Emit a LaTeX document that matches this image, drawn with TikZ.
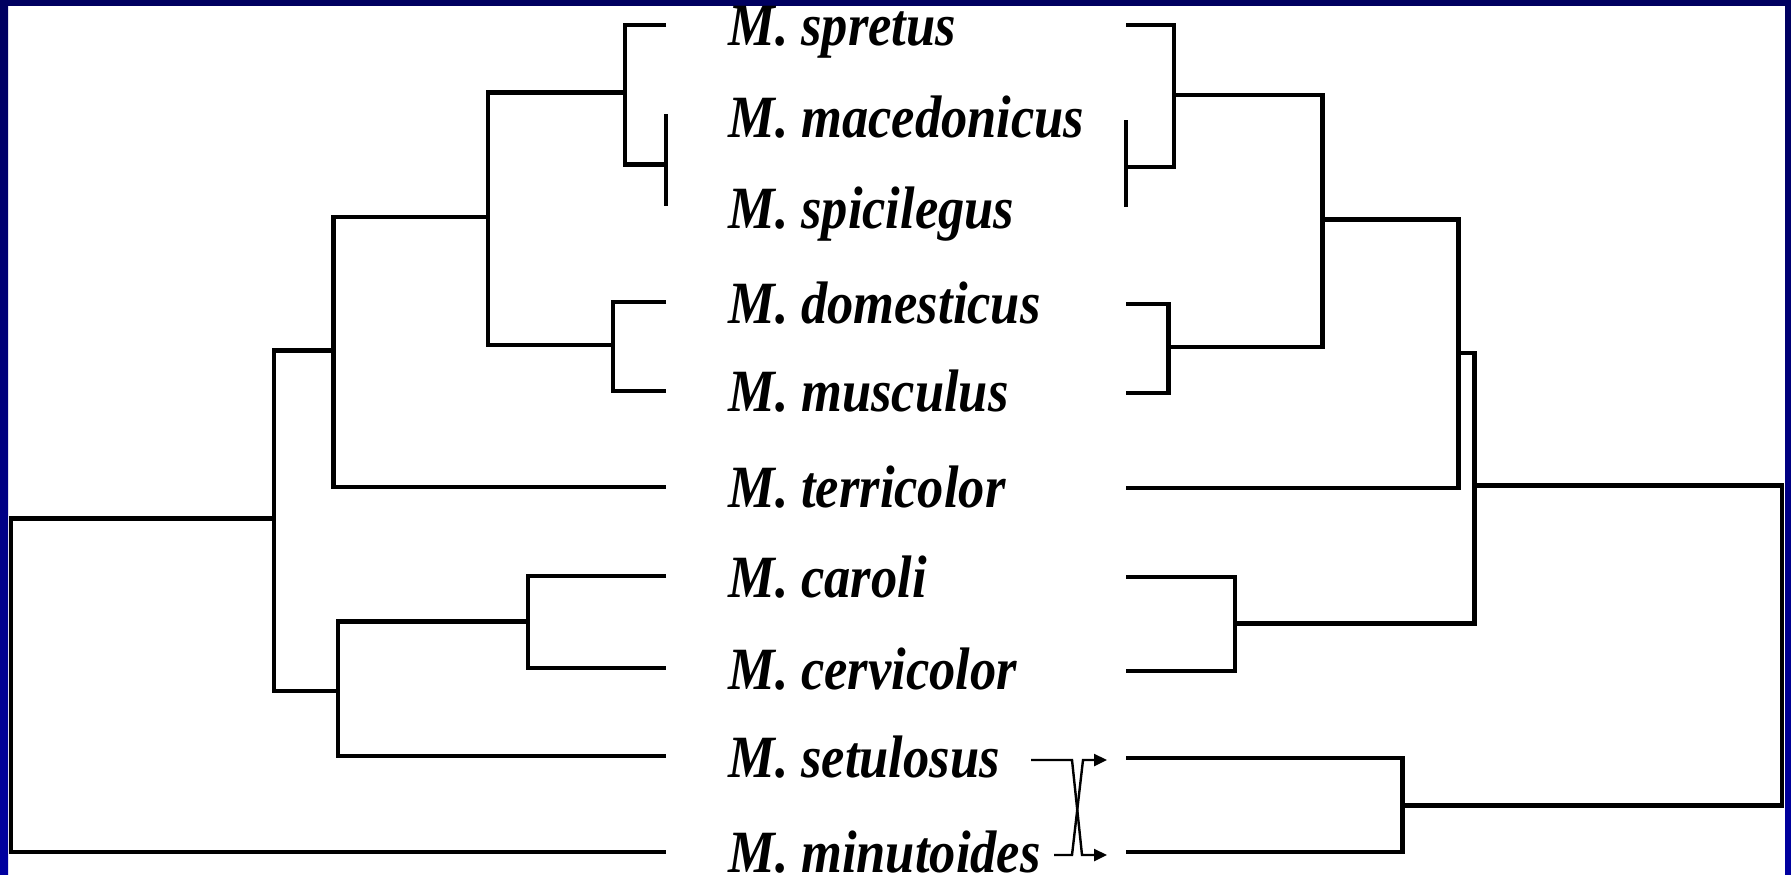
\documentclass[tikz,border=0pt]{standalone}
\usepackage{fontspec}
\newfontfamily\taxfont{Liberation Serif}[FakeStretch=0.875]
\usetikzlibrary{arrows.meta}
\definecolor{frametop}{HTML}{000060}
\definecolor{framebot}{HTML}{0000A0}

\begin{document}
\begin{tikzpicture}[
  x=0.5pt,y=-0.5pt,
  taxon/.style={anchor=base west,inner sep=0pt,font=\taxfont\bfseries\itshape\fontsize{30}{30}\selectfont},
  branch/.style={line width=2.25pt,line join=miter},
  swaparrow/.style={line width=1.2pt,line join=miter,-{Triangle[length=6.5pt,width=6pt]}},
]
\useasboundingbox (0,0) rectangle (1791,874);
\fill[white] (0,0) rectangle (1791,874);

% ============ frame ============
\shade[top color=frametop,bottom color=framebot] (0,0) rectangle (8,874);
\shade[top color=frametop,bottom color=framebot] (1785,0) rectangle (1791,874);
\fill[frametop] (0,0) rectangle (1791,6);

% ============ species names ============
\node[taxon] (spretus)     at (728,45)  {M. spretus};
\node[taxon] (macedonicus) at (728,137) {M. macedonicus};
\node[taxon] (spicilegus)  at (728,228) {M. spicilegus};
\node[taxon] (domesticus)  at (728,323) {M. domesticus};
\node[taxon] (musculus)    at (728,411) {M. musculus};
\node[taxon] (terricolor)  at (728,507) {M. terricolor};
\node[taxon] (caroli)      at (728,597) {M. caroli};
\node[taxon] (cervicolor)  at (728,689) {M. cervicolor};
\node[taxon] (setulosus)   at (728,777) {M. setulosus};
\node[taxon] (minutoides)  at (728,872) {M. minutoides};

% ============ left tree ============
\coordinate (Lspr) at (666,25);
\coordinate (Lmac) at (666,114);
\coordinate (Lspi) at (666,206);
\coordinate (Ldom) at (666,302);
\coordinate (Lmus) at (666,391);
\coordinate (Lter) at (666,487);
\coordinate (Lcar) at (666,576);
\coordinate (Lcer) at (666,668);
\coordinate (Lset) at (666,756);
\coordinate (Lmin) at (666,852);
\coordinate (Lms)   at (666,164.5);
\coordinate (Lsms)  at (625,92.5);
\coordinate (Ldm)   at (613,345);
\coordinate (Lpal)  at (488,217);
\coordinate (Lpt)   at (333.5,350.7);
\coordinate (Lcc)   at (528,621.4);
\coordinate (Lccs)  at (338,691);
\coordinate (Lin)   at (274,518.6);
\coordinate (Lroot) at (11,685);

\draw[branch] (Lmac) -- (Lspi);
\draw[branch] (Lspr) -| (Lsms) |- (Lms);
\draw[branch] (Ldom) -| (Ldm) |- (Lmus);
\draw[branch] (Lsms) -| (Lpal) |- (Ldm);
\draw[branch] (Lpal) -| (Lpt) |- (Lter);
\draw[branch] (Lcar) -| (Lcc) |- (Lcer);
\draw[branch] (Lcc) -| (Lccs) |- (Lset);
\draw[branch] (Lpt) -| (Lin) |- (Lccs);
\draw[branch] (Lin) -| (Lroot) |- (Lmin);

% ============ right tree ============
\coordinate (Rspr) at (1126,25);
\coordinate (Rmac) at (1126,120);
\coordinate (Rspi) at (1126,207);
\coordinate (Rdom) at (1126,304);
\coordinate (Rmus) at (1126,393);
\coordinate (Rter) at (1126,488);
\coordinate (Rcar) at (1126,577);
\coordinate (Rcer) at (1126,671);
\coordinate (Rset) at (1126,758);
\coordinate (Rmin) at (1126,852);
\coordinate (Rms)   at (1126,166.8);
\coordinate (Rsms)  at (1174,94.8);
\coordinate (Rdm)   at (1168.5,347.2);
\coordinate (Rpal)  at (1322.7,219.3);
\coordinate (Rpt)   at (1458.6,353);
\coordinate (Rcc)   at (1234.8,623.6);
\coordinate (Rpc)   at (1474.6,485.4);
\coordinate (Rsm)   at (1402.7,805.3);
\coordinate (Rroot) at (1781.8,645);

\draw[branch] (Rmac) -- (Rspi);
\draw[branch] (Rspr) -| (Rsms) |- (Rms);
\draw[branch] (Rdom) -| (Rdm) |- (Rmus);
\draw[branch] (Rsms) -| (Rpal) |- (Rdm);
\draw[branch] (Rpal) -| (Rpt) |- (Rter);
\draw[branch] (Rcar) -| (Rcc) |- (Rcer);
\draw[branch] (Rpt) -| (Rpc) |- (Rcc);
\draw[branch] (Rset) -| (Rsm) |- (Rmin);
\draw[branch] (Rpc) -| (Rroot) |- (Rsm);

% ============ swap of setulosus / minutoides ============
\coordinate (sw1a) at (1031,760);
\coordinate (sw1b) at (1072,760);
\coordinate (sw1c) at (1082,855);
\coordinate (sw1d) at (1107,855);
\coordinate (sw2a) at (1054,855);
\coordinate (sw2b) at (1072,855);
\coordinate (sw2c) at (1083,760);
\coordinate (sw2d) at (1107,760);
\draw[swaparrow] (sw1a) -- (sw1b) -- (sw1c) -- (sw1d);
\draw[swaparrow] (sw2a) -- (sw2b) -- (sw2c) -- (sw2d);

\end{tikzpicture}
\end{document}
